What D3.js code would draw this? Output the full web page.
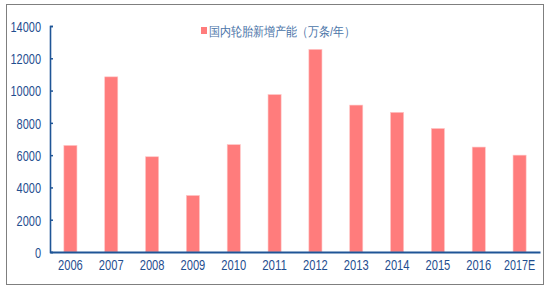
<!DOCTYPE html>
<html>
<head>
<meta charset="utf-8">
<script src="https://cdn.jsdelivr.net/npm/d3@7"></script>
<style>
  body { margin: 0; background: #fff; }
  text { font-family: "Liberation Sans", Arial, sans-serif; }
</style>
</head>
<body>
<svg id="chart"></svg>
<script>
// chart data
const years = ['2006', '2007', '2008', '2009', '2010', '2011', '2012', '2013', '2014', '2015', '2016', '2017E'];
const capacity = [6600, 10850, 5900, 3500, 6650, 9750, 12550, 9100, 8650, 7650, 6500, 6000];
const yTicks = [0, 2000, 4000, 6000, 8000, 10000, 12000, 14000];
const seriesName = '国内轮胎新增产能（万条/年）';

const width = 550, height = 290;
const margin = { top: 26, right: 10, bottom: 38, left: 50 };
const innerW = 490, innerH = 226;

const svg = d3.select('#chart')
  .attr('width', width)
  .attr('height', height);

// outer frame
svg.append('rect')
  .attr('x', 6.5).attr('y', 4.5)
  .attr('width', 537).attr('height', 280)
  .attr('fill', 'none')
  .attr('stroke', '#7f7f7f')
  .attr('stroke-width', 1);

const g = svg.append('g')
  .attr('transform', `translate(${margin.left},${margin.top})`);

const x = d3.scaleBand()
  .domain(years)
  .range([0, innerW])
  .paddingInner(0.68)
  .paddingOuter(0.34);

const y = d3.scaleLinear()
  .domain([0, 14000])
  .range([innerH, 0]);

// bars
g.selectAll('.bar')
  .data(capacity)
  .join('rect')
  .attr('class', 'bar')
  .attr('x', (d, i) => x(years[i]))
  .attr('y', d => y(d))
  .attr('width', x.bandwidth())
  .attr('height', d => innerH - y(d))
  .attr('fill', '#ff7c7c')
  .attr('stroke', '#ffc4c4')
  .attr('stroke-width', 0.6);

// y axis
const yAxis = d3.axisRight(y)
  .tickValues(yTicks)
  .tickSize(3)
  .tickFormat(d3.format('d'));

const yAxisG = g.append('g').call(yAxis);
yAxisG.select('.domain').attr('stroke', '#1f5596').attr('stroke-width', 1.6);
yAxisG.selectAll('.tick line').attr('stroke', '#1f5596').attr('stroke-width', 1.5);
yAxisG.selectAll('.tick text')
  .attr('x', -9)
  .attr('dy', '0.36em')
  .attr('text-anchor', 'end')
  .attr('fill', '#1f4e8f')
  .attr('font-size', 15)
  .attr('textLength', function () { return this.textContent.length * 6.1; })
  .attr('lengthAdjust', 'spacingAndGlyphs');

// x axis
const xAxis = d3.axisBottom(x).tickSize(0).tickPadding(7);
const xAxisG = g.append('g')
  .attr('transform', `translate(0,${innerH})`)
  .call(xAxis);
xAxisG.select('.domain').attr('stroke', '#1f5596').attr('stroke-width', 2);
xAxisG.selectAll('.tick text')
  .attr('fill', '#1f4e8f')
  .attr('font-size', 15)
  .attr('textLength', function () { return this.textContent.length * 6.2; })
  .attr('lengthAdjust', 'spacingAndGlyphs');

// legend
svg.append('rect')
  .attr('x', 201).attr('y', 27)
  .attr('width', 6).attr('height', 7)
  .attr('fill', '#ff7c7c');
svg.append('text')
  .attr('x', 209).attr('y', 36)
  .attr('font-family', '"Noto Sans CJK SC", sans-serif')
  .attr('font-size', 12.5)
  .attr('fill', '#4a74a8')
  .attr('textLength', 146)
  .attr('lengthAdjust', 'spacingAndGlyphs')
  .text(seriesName);
</script>
</body>
</html>
